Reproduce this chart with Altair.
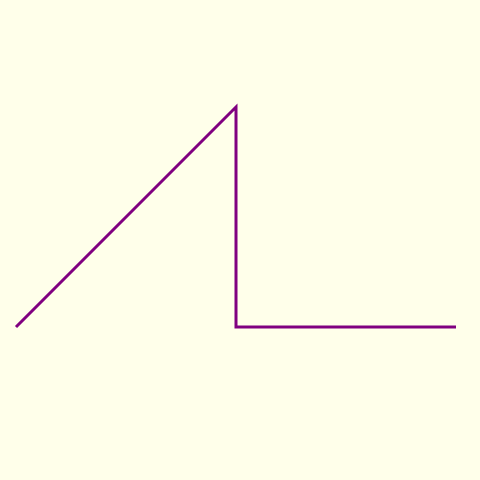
import altair as alt
import pandas as pd

xs = [0, 1, 1, 2]
ys = [0, 1, 0, 0]
order = [0, 1, 2, 3]

df = pd.DataFrame({"x": xs, "y": ys, "o": order})

BG = "#FFFFEA"

chart = alt.Chart(df).mark_line(color="#800080", strokeWidth=3, clip=False).encode(
    x=alt.X("x:Q", axis=None, scale=alt.Scale(domain=[-8/220, -8/220 + 464/220], nice=False, zero=False)),
    y=alt.Y("y:Q", axis=None, scale=alt.Scale(domain=[1.45 - 464/220, 1.45], nice=False, zero=False)),
    order="o:O",
).properties(
    width=464, height=464, padding=0, background=BG,
    autosize=alt.AutoSizeParams(type="none"),
).configure_view(stroke=None)

chart.save("out.html", embed_options={"renderer": "svg", "actions": False,
                                      "defaultStyle": "html, body { background: " + BG + "; }"})
